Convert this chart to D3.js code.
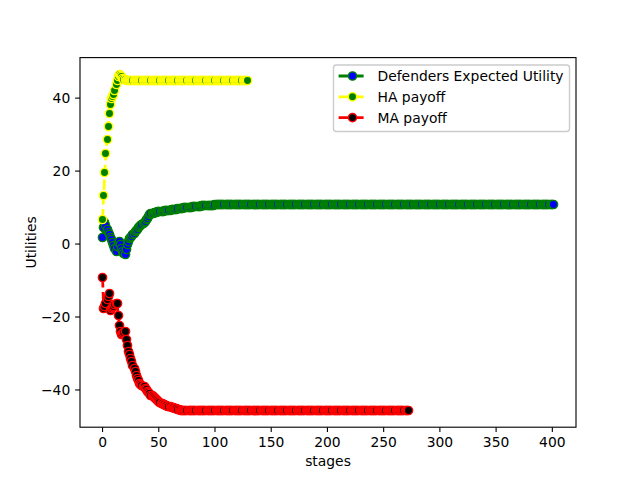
<!DOCTYPE html>
<html>
<head>
<meta charset="utf-8">
<script src="https://cdn.jsdelivr.net/npm/d3@7"></script>
<style>
  html, body { margin: 0; padding: 0; background: #ffffff; }
  svg { display: block; font-family: 'DejaVu Sans', sans-serif; }
</style>
</head>
<body>
<div id="chart"></div>
<script>
// values, index = stage
const defendersUtility = [
  1.8, 4.5, 6.0, 5.0, 4.1, 3.3, 2.6, 1.9, 1.2, 0.5,
  -0.3, -1.2, -2.0, -0.8, 0.4, 0.8, -0.2, -1.2, -2.0, -2.7,
  -3.0, -1.6, 0.0, 0.8, 1.4, 1.8, 2.2, 2.6, 3.0, 3.4,
  3.8, 4.1, 4.4, 4.7, 5.0, 5.3, 5.6, 5.9, 6.2, 6.6,
  7.0, 7.5, 8.0, 8.3, 8.4, 8.5, 8.6, 8.6, 8.7, 8.8,
  8.8, 8.9, 8.9, 9.0, 9.0, 9.1, 9.1, 9.2, 9.2, 9.3,
  9.3, 9.4, 9.4, 9.5, 9.5, 9.6, 9.6, 9.7, 9.7, 9.7,
  9.8, 9.8, 9.9, 9.9, 9.9, 10.0, 10.0, 10.1, 10.1, 10.1,
  10.2, 10.2, 10.3, 10.3, 10.3, 10.4, 10.4, 10.4, 10.5, 10.5,
  10.5, 10.6, 10.6, 10.6, 10.6, 10.7, 10.7, 10.7, 10.7, 10.7,
  10.8, 10.8, 10.8, 10.8, 10.8, 10.8, 10.8, 10.8, 10.8, 10.8, 10.8, 10.8, 10.8, 10.8, 10.8, 10.8, 10.8, 10.8, 10.8, 10.8,
  10.8, 10.8, 10.8, 10.8, 10.8, 10.8, 10.8, 10.8, 10.8, 10.8, 10.8, 10.8, 10.8, 10.8, 10.8, 10.8, 10.8, 10.8, 10.8, 10.8,
  10.8, 10.8, 10.8, 10.8, 10.8, 10.8, 10.8, 10.8, 10.8, 10.8, 10.8, 10.8, 10.8, 10.8, 10.8, 10.8, 10.8, 10.8, 10.8, 10.8,
  10.8, 10.8, 10.8, 10.8, 10.8, 10.8, 10.8, 10.8, 10.8, 10.8, 10.8, 10.8, 10.8, 10.8, 10.8, 10.8, 10.8, 10.8, 10.8, 10.8,
  10.8, 10.8, 10.8, 10.8, 10.8, 10.8, 10.8, 10.8, 10.8, 10.8, 10.8, 10.8, 10.8, 10.8, 10.8, 10.8, 10.8, 10.8, 10.8, 10.8,
  10.8, 10.8, 10.8, 10.8, 10.8, 10.8, 10.8, 10.8, 10.8, 10.8, 10.8, 10.8, 10.8, 10.8, 10.8, 10.8, 10.8, 10.8, 10.8, 10.8,
  10.8, 10.8, 10.8, 10.8, 10.8, 10.8, 10.8, 10.8, 10.8, 10.8, 10.8, 10.8, 10.8, 10.8, 10.8, 10.8, 10.8, 10.8, 10.8, 10.8,
  10.8, 10.8, 10.8, 10.8, 10.8, 10.8, 10.8, 10.8, 10.8, 10.8, 10.8, 10.8, 10.8, 10.8, 10.8, 10.8, 10.8, 10.8, 10.8, 10.8,
  10.8, 10.8, 10.8, 10.8, 10.8, 10.8, 10.8, 10.8, 10.8, 10.8, 10.8, 10.8, 10.8, 10.8, 10.8, 10.8, 10.8, 10.8, 10.8, 10.8,
  10.8, 10.8, 10.8, 10.8, 10.8, 10.8, 10.8, 10.8, 10.8, 10.8, 10.8, 10.8, 10.8, 10.8, 10.8, 10.8, 10.8, 10.8, 10.8, 10.8,
  10.8, 10.8, 10.8, 10.8, 10.8, 10.8, 10.8, 10.8, 10.8, 10.8, 10.8, 10.8, 10.8, 10.8, 10.8, 10.8, 10.8, 10.8, 10.8, 10.8,
  10.8, 10.8, 10.8, 10.8, 10.8, 10.8, 10.8, 10.8, 10.8, 10.8, 10.8, 10.8, 10.8, 10.8, 10.8, 10.8, 10.8, 10.8, 10.8, 10.8,
  10.8, 10.8, 10.8, 10.8, 10.8, 10.8, 10.8, 10.8, 10.8, 10.8, 10.8, 10.8, 10.8, 10.8, 10.8, 10.8, 10.8, 10.8, 10.8, 10.8,
  10.8, 10.8, 10.8, 10.8, 10.8, 10.8, 10.8, 10.8, 10.8, 10.8, 10.8, 10.8, 10.8, 10.8, 10.8, 10.8, 10.8, 10.8, 10.8, 10.8,
  10.8, 10.8, 10.8, 10.8, 10.8, 10.8, 10.8, 10.8, 10.8, 10.8, 10.8, 10.8, 10.8, 10.8, 10.8, 10.8, 10.8, 10.8, 10.8, 10.8,
  10.8, 10.8
];

const haPayoff = [
  6.8, 13.4, 19.6, 24.8, 28.7, 32.1, 35.8, 38.3, 39.9, 40.5,
  41.0, 42.2, 43.6, 44.9, 46.0, 46.5, 46.2, 45.8, 45.5, 45.2,
  45.0, 44.9, 44.8, 44.8, 44.8, 44.8, 44.8, 44.8, 44.8, 44.8,
  44.8, 44.8, 44.8, 44.8, 44.8, 44.8, 44.8, 44.8, 44.8, 44.8, 44.8, 44.8, 44.8, 44.8, 44.8, 44.8, 44.8, 44.8, 44.8, 44.8,
  44.8, 44.8, 44.8, 44.8, 44.8, 44.8, 44.8, 44.8, 44.8, 44.8, 44.8, 44.8, 44.8, 44.8, 44.8, 44.8, 44.8, 44.8, 44.8, 44.8,
  44.8, 44.8, 44.8, 44.8, 44.8, 44.8, 44.8, 44.8, 44.8, 44.8, 44.8, 44.8, 44.8, 44.8, 44.8, 44.8, 44.8, 44.8, 44.8, 44.8,
  44.8, 44.8, 44.8, 44.8, 44.8, 44.8, 44.8, 44.8, 44.8, 44.8, 44.8, 44.8, 44.8, 44.8, 44.8, 44.8, 44.8, 44.8, 44.8, 44.8,
  44.8, 44.8, 44.8, 44.8, 44.8, 44.8, 44.8, 44.8, 44.8, 44.8, 44.8, 44.8, 44.8, 44.8, 44.8, 44.8, 44.8, 44.8, 44.8, 44.8
];

const maPayoff = [
  -9.1, -17.6, -17.0, -16.2, -15.3, -14.4, -13.5, -18.1, -17.7, -17.3,
  -17.0, -16.7, -16.3, -16.2, -19.5, -22.2, -24.0, -24.9, -24.6, -24.2,
  -24.0, -26.3, -27.9, -29.5, -30.4, -31.3, -32.2, -33.2, -34.1, -35.0,
  -35.9, -36.8, -37.5, -38.2, -38.5, -38.8, -39.0, -39.1, -39.5, -40.0,
  -40.5, -40.8, -41.1, -41.4, -41.6, -41.8, -42.1, -42.4, -42.6, -42.9,
  -43.1, -43.3, -43.6, -43.8, -43.9, -44.1, -44.2, -44.3, -44.4, -44.5,
  -44.6, -44.7, -44.8, -44.9, -45.0, -45.1, -45.2, -45.3, -45.4, -45.5,
  -45.5, -45.6, -45.6, -45.6, -45.6, -45.6, -45.6, -45.6, -45.6, -45.6,
  -45.6, -45.6, -45.6, -45.6, -45.6, -45.6, -45.6, -45.6, -45.6, -45.6, -45.6, -45.6, -45.6, -45.6, -45.6, -45.6, -45.6, -45.6, -45.6, -45.6,
  -45.6, -45.6, -45.6, -45.6, -45.6, -45.6, -45.6, -45.6, -45.6, -45.6, -45.6, -45.6, -45.6, -45.6, -45.6, -45.6, -45.6, -45.6, -45.6, -45.6,
  -45.6, -45.6, -45.6, -45.6, -45.6, -45.6, -45.6, -45.6, -45.6, -45.6, -45.6, -45.6, -45.6, -45.6, -45.6, -45.6, -45.6, -45.6, -45.6, -45.6,
  -45.6, -45.6, -45.6, -45.6, -45.6, -45.6, -45.6, -45.6, -45.6, -45.6, -45.6, -45.6, -45.6, -45.6, -45.6, -45.6, -45.6, -45.6, -45.6, -45.6,
  -45.6, -45.6, -45.6, -45.6, -45.6, -45.6, -45.6, -45.6, -45.6, -45.6, -45.6, -45.6, -45.6, -45.6, -45.6, -45.6, -45.6, -45.6, -45.6, -45.6,
  -45.6, -45.6, -45.6, -45.6, -45.6, -45.6, -45.6, -45.6, -45.6, -45.6, -45.6, -45.6, -45.6, -45.6, -45.6, -45.6, -45.6, -45.6, -45.6, -45.6,
  -45.6, -45.6, -45.6, -45.6, -45.6, -45.6, -45.6, -45.6, -45.6, -45.6, -45.6, -45.6, -45.6, -45.6, -45.6, -45.6, -45.6, -45.6, -45.6, -45.6,
  -45.6, -45.6, -45.6, -45.6, -45.6, -45.6, -45.6, -45.6, -45.6, -45.6, -45.6, -45.6, -45.6, -45.6, -45.6, -45.6, -45.6, -45.6, -45.6, -45.6,
  -45.6, -45.6, -45.6, -45.6, -45.6, -45.6, -45.6, -45.6, -45.6, -45.6, -45.6, -45.6, -45.6, -45.6, -45.6, -45.6, -45.6, -45.6, -45.6, -45.6,
  -45.6, -45.6, -45.6, -45.6, -45.6, -45.6, -45.6, -45.6, -45.6, -45.6, -45.6, -45.6, -45.6
];

const xTicks = [0, 50, 100, 150, 200, 250, 300, 350, 400];
const yTicks = [-40, -20, 0, 20, 40];

const seriesNames = ['Defenders Expected Utility', 'HA payoff', 'MA payoff'];
const seriesValues = [defendersUtility, haPayoff, maPayoff];

// line colour, marker face, marker edge
const seriesStyles = [
  { line: '#008000', face: '#0000ff', edge: '#008000' },
  { line: '#ffff00', face: '#008000', edge: '#ffff00' },
  { line: '#ff0000', face: '#000000', edge: '#ff0000' }
];

const width = 640;
const height = 480;
const pt = 100 / 72;
const axL = 80, axR = 576, axT = 57.6, axB = 427.2;

const svg = d3.select('#chart')
  .append('svg')
  .attr('width', width)
  .attr('height', height)
  .attr('viewBox', `0 0 ${width} ${height}`);

svg.append('rect').attr('width', width).attr('height', height).attr('fill', '#ffffff');

// matplotlib style 5% margins around the data
const xMax = d3.max(seriesValues, (s) => s.length - 1);
const allVals = seriesValues.flat();
const yMin = d3.min(allVals);
const yMax = d3.max(allVals);
const xPad = 0.05 * xMax;
const yPad = 0.05 * (yMax - yMin);

const x = d3.scaleLinear().domain([-xPad, xMax + xPad]).range([axL, axR]);
const y = d3.scaleLinear().domain([yMin - yPad, yMax + yPad]).range([axB, axT]);

svg.append('defs').append('clipPath').attr('id', 'plot-clip')
  .append('rect')
  .attr('x', axL).attr('y', axT)
  .attr('width', axR - axL).attr('height', axB - axT);

const plot = svg.append('g').attr('clip-path', 'url(#plot-clip)');

const lineW = 2 * pt;
const markR = 3 * pt;
const markEdge = 1 * pt;
const dash = `${3.7 * lineW},${1.6 * lineW}`;

const line = d3.line()
  .x((d, i) => x(i))
  .y((d) => y(d));

seriesValues.forEach((vals, k) => {
  const st = seriesStyles[k];
  const g = plot.append('g').attr('class', 'series');
  g.append('path')
    .datum(vals)
    .attr('d', line)
    .attr('fill', 'none')
    .attr('stroke', st.line)
    .attr('stroke-width', lineW)
    .attr('stroke-dasharray', dash)
    .attr('stroke-linejoin', 'round');
  // markers snapped to pixel centres like Agg does
  g.selectAll('circle')
    .data(vals)
    .join('circle')
    .attr('cx', (d, i) => Math.floor(x(i)) + 0.5)
    .attr('cy', (d) => Math.floor(y(d)) + 0.5)
    .attr('r', markR)
    .attr('fill', st.face)
    .attr('stroke', st.edge)
    .attr('stroke-width', markEdge);
});

// axes
const tickLen = 3.5 * pt;
const fontPx = 10 * pt;
const fmt = (v) => String(v).replace('-', '\u2212');

const xAxis = svg.append('g').attr('class', 'x-axis');
xTicks.forEach((t) => {
  const px = x(t);
  xAxis.append('line')
    .attr('x1', px).attr('x2', px)
    .attr('y1', axB).attr('y2', axB + tickLen)
    .attr('stroke', '#000').attr('stroke-width', 0.8 * pt);
  xAxis.append('text')
    .attr('x', px).attr('y', axB + tickLen + 3.5 * pt + 10.2)
    .attr('text-anchor', 'middle')
    .attr('font-size', fontPx)
    .attr('fill', '#000')
    .text(fmt(t));
});

const yAxis = svg.append('g').attr('class', 'y-axis');
yTicks.forEach((t) => {
  const py = y(t);
  yAxis.append('line')
    .attr('x1', axL - tickLen).attr('x2', axL)
    .attr('y1', py).attr('y2', py)
    .attr('stroke', '#000').attr('stroke-width', 0.8 * pt);
  yAxis.append('text')
    .attr('x', axL - tickLen - 3.5 * pt).attr('y', py + 5)
    .attr('text-anchor', 'end')
    .attr('font-size', fontPx)
    .attr('fill', '#000')
    .text(fmt(t));
});

svg.append('rect')
  .attr('x', axL).attr('y', axT)
  .attr('width', axR - axL).attr('height', axB - axT)
  .attr('fill', 'none')
  .attr('stroke', '#000')
  .attr('stroke-width', 0.8 * pt);

svg.append('text')
  .attr('x', (axL + axR) / 2).attr('y', 466)
  .attr('text-anchor', 'middle')
  .attr('font-size', fontPx)
  .attr('fill', '#000')
  .text('stages');

svg.append('text')
  .attr('transform', `translate(36,${(axT + axB) / 2}) rotate(-90)`)
  .attr('text-anchor', 'middle')
  .attr('font-size', fontPx)
  .attr('fill', '#000')
  .text('Utilities');

// legend
const legend = svg.append('g').attr('class', 'legend');
legend.append('rect')
  .attr('x', 333.5).attr('y', 65)
  .attr('width', 236).attr('height', 66.5)
  .attr('rx', 2.8)
  .attr('fill', 'rgba(255,255,255,0.8)')
  .attr('stroke', '#cccccc')
  .attr('stroke-width', 1 * pt);

const rowY = [76, 96.8, 117.6];
const handleX0 = 338.6;
const handleLen = 2 * fontPx;
seriesNames.forEach((name, k) => {
  const st = seriesStyles[k];
  const cy = rowY[k];
  legend.append('line')
    .attr('x1', handleX0).attr('x2', handleX0 + handleLen)
    .attr('y1', cy).attr('y2', cy)
    .attr('stroke', st.line)
    .attr('stroke-width', lineW)
    .attr('stroke-dasharray', dash);
  legend.append('circle')
    .attr('cx', handleX0 + handleLen / 2).attr('cy', cy)
    .attr('r', markR)
    .attr('fill', st.face)
    .attr('stroke', st.edge)
    .attr('stroke-width', markEdge);
  legend.append('text')
    .attr('x', handleX0 + handleLen + 0.8 * fontPx)
    .attr('y', cy + 5)
    .attr('font-size', fontPx)
    .attr('fill', '#000')
    .text(name);
});
</script>
</body>
</html>
